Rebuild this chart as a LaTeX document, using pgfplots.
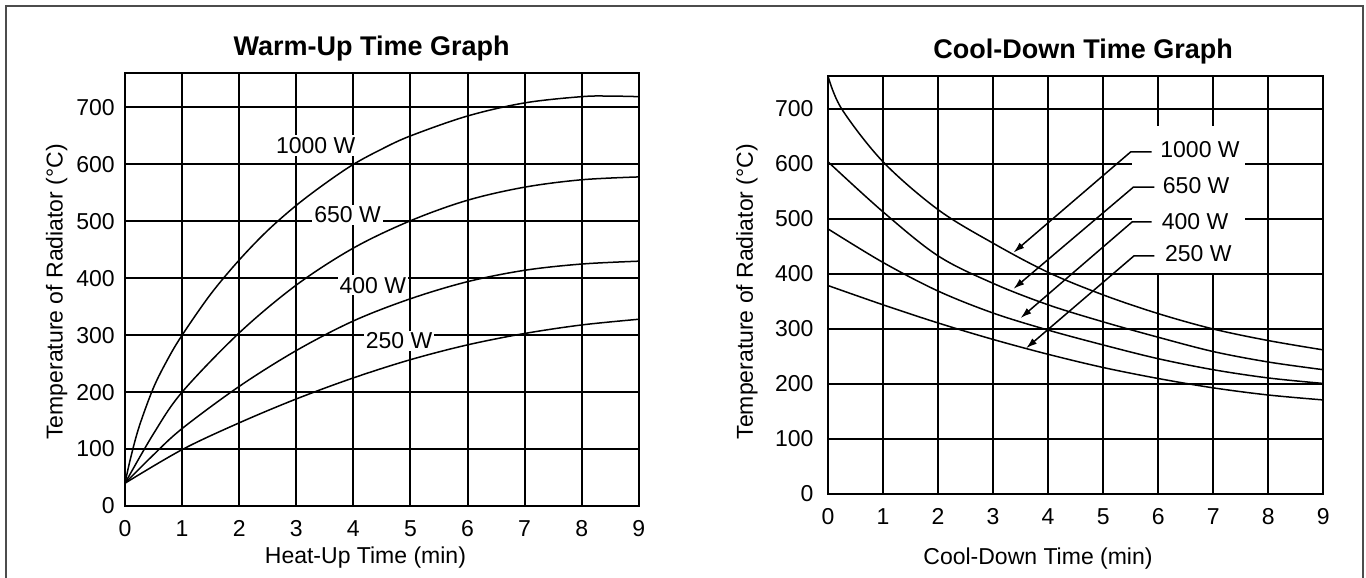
\documentclass[border=0pt]{standalone}
\usepackage{fontspec}
\setmainfont{Liberation Sans}
\usepackage{pgfplots}
\pgfplotsset{compat=1.18}
\usetikzlibrary{arrows.meta}

\pgfplotstableread{
t    v
0    40
0.1  85
0.25 140
0.5  208
0.75 258
1    300
1.5  372
2    432
2.5  484
3    528
3.5  566
4    600
4.5  627
5    650
6    685
7    708
8    719
8.5  720
9    719
}\wkilo
\pgfplotstableread{
t    v
0    40
0.5  127
1    200
2    304
3    388
4    453
5    501
6    537
7    560
8    573
9    578
}\wsixfifty
\pgfplotstableread{
t   v
0   40
0.5 90
1   136
2   210
3   273
4   325
5   364
6   394
7   414
8   425
9   430
}\wfourhundred
\pgfplotstableread{
t  v
0  40
1  99
2  146
3  188
4  225
5  257
6  283
7  303
8  318
9  328
}\wtwofifty
\pgfplotstableread{
t    v
0    760
0.25 700
1    604
2    517
3    456
4    403
5    362
6    328
7    300
8    279
9    262
}\ckilo
\pgfplotstableread{
t  v
0  604
1  513
2  433
3  383
4  344
5  313
6  285
7  259
8  240
9  226
}\csixfifty
\pgfplotstableread{
t  v
0  482
1  421
2  369
3  329
4  298
5  271
6  246
7  226
8  211
9  201
}\cfourhundred
\pgfplotstableread{
t  v
0  379
1  344
2  311
3  281
4  254
5  230
6  210
7  193
8  180
9  171
}\ctwofifty

\newcommand{\lblfont}{\fontsize{11.5}{13}\selectfont}

\pgfplotsset{
  common/.style={
    scale only axis,
    anchor=south west,
    xmin=0, xmax=9, ymin=0, ymax=760,
    xtick={0,1,...,9}, ytick={0,100,...,700},
    yticklabels={{0\hspace{3.6pt}},100,200,300,400,500,600,700},
    grid=major,
    major grid style={black, line width=1pt},
    axis line style={black, line width=1pt},
    major tick length=0pt,
    tick label style={font=\lblfont},
    /pgf/number format/assume math mode=true,
    xticklabel style={anchor=base, yshift=-15.3pt},
    yticklabel style={xshift=-1.6pt},
    every axis plot post/.append style={black, line width=0.75pt, smooth, tension=0.55, mark=none},
  }
}

\begin{document}
\begin{tikzpicture}
\useasboundingbox (0pt,0pt) rectangle (683pt,289pt);
\draw[line width=1pt, black!70] (3pt,0pt) -- (3pt,286pt) -- (681.3pt,286pt) -- (681.3pt,0pt);

% ---------------- Warm-Up ----------------
\begin{axis}[common,
  at={(62.5pt,36pt)}, width=256.9pt, height=216.35pt,
  title={Warm-Up Time Graph},
  xlabel={Heat-Up Time (min)},
  ylabel={Temperature of Radiator (°C)},
  every axis title/.style={at={(axis description cs:0.48,1)}, anchor=base, yshift=8.75pt, font=\fontsize{13.5}{15}\bfseries\selectfont},
  every axis x label/.style={at={(axis description cs:0.468,0)}, anchor=base, yshift=-29pt, font=\lblfont},
  every axis y label/.style={at={(axis description cs:0,0.495)}, xshift=-34.2pt, rotate=90, anchor=center, font=\lblfont},
]
\addplot table[x=t,y=v] {\wkilo};
\addplot table[x=t,y=v] {\wsixfifty};
\addplot table[x=t,y=v] {\wfourhundred};
\addplot table[x=t,y=v] {\wtwofifty};
\node[fill=white, inner sep=1pt, font=\lblfont] at (axis cs:3.34,633) {1000 W};
\node[fill=white, inner sep=1pt, font=\lblfont] at (axis cs:3.90,511) {650 W};
\node[fill=white, inner sep=1pt, font=\lblfont] at (axis cs:4.34,388) {400 W};
\node[fill=white, inner sep=1pt, font=\lblfont] at (axis cs:4.80,290) {250 W};
\end{axis}

% ---------------- Cool-Down ----------------
\begin{axis}[common,
  at={(414pt,42pt)}, width=247.65pt, height=209pt,
  title={Cool-Down Time Graph},
  xlabel={Cool-Down Time (min)},
  ylabel={Temperature of Radiator (°C)},
  yticklabel style={xshift=-2.1pt},
  every axis title/.style={at={(axis description cs:0.515,1)}, anchor=base, yshift=8.75pt, font=\fontsize{13.5}{15}\bfseries\selectfont},
  every axis x label/.style={at={(axis description cs:0.424,0)}, anchor=base, yshift=-35pt, font=\lblfont},
  every axis y label/.style={at={(axis description cs:0,0.484)}, xshift=-40.5pt, rotate=90, anchor=center, font=\lblfont},
]
\fill[white] (axis cs:5.52,402) rectangle (axis cs:7.58,669);
\addplot table[x=t,y=v] {\ckilo};
\addplot table[x=t,y=v] {\csixfifty};
\addplot table[x=t,y=v] {\cfourhundred};
\addplot table[x=t,y=v] {\ctwofifty};
\node[font=\lblfont] at (axis cs:6.76,626) {1000 W};
\node[font=\lblfont] at (axis cs:6.69,561) {650 W};
\node[font=\lblfont] at (axis cs:6.67,496) {400 W};
\node[font=\lblfont] at (axis cs:6.73,437) {250 W};
\draw[line width=0.75pt, -{Latex[length=5.5pt,width=3.5pt]}] (axis cs:5.88,622) -- (axis cs:5.50,622) -- (axis cs:3.37,439);
\draw[line width=0.75pt, -{Latex[length=5.5pt,width=3.5pt]}] (axis cs:5.93,558) -- (axis cs:5.55,558) -- (axis cs:3.37,373);
\draw[line width=0.75pt, -{Latex[length=5.5pt,width=3.5pt]}] (axis cs:5.88,495) -- (axis cs:5.53,495) -- (axis cs:3.50,320);
\draw[line width=0.75pt, -{Latex[length=5.5pt,width=3.5pt]}] (axis cs:5.93,433) -- (axis cs:5.56,433) -- (axis cs:3.60,265);
\end{axis}
\end{tikzpicture}
\end{document}
